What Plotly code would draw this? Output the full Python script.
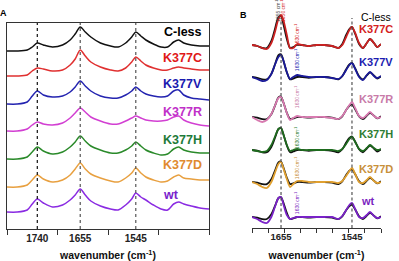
import plotly.graph_objects as go

W, H = 399, 261

# ---------------- Panel A data (FTIR absorbance, a.u., offset-stacked) ----------------
SERIES_A = ["C-less", "K377C", "K377V", "K377R", "K377H", "K377D", "wt"]
WN_A = [1800, 1780, 1760, 1750, 1740, 1728, 1710, 1690, 1675, 1665, 1655, 1645, 1634,
        1615, 1595, 1580, 1565, 1553, 1545, 1535, 1525, 1510, 1495, 1482, 1470, 1460,
        1450, 1435, 1418, 1400]
A_CLESS = [0, 0, 1, 4, 8, 6, 4, 6, 11, 17, 24, 19, 14, 8, 5, 4, 8, 14, 19, 15, 11, 7, 4, 4, 9, 11, 8, 6, 5, 5]
A_K377C = [0, 0, 1, 5, 8, 7, 5, 6, 11, 17, 26, 20, 14, 9, 6, 5, 8, 14, 19, 15, 11, 8, 6, 6, 8, 9, 8, 7, 6, 6]
A_K377V = [0, 0, 2, 8, 13, 9, 7, 8, 12, 17, 23, 18, 13, 8, 6, 6, 9, 13, 17, 13, 10, 8, 7, 8, 13, 14, 9, 6, 5, 4]
A_K377R = [0, 0, 2, 6, 9, 7, 6, 8, 13, 18, 23, 19, 14, 10, 7, 7, 10, 13, 15, 13, 11, 10, 10, 11, 14, 15, 11, 8, 6, 5]
A_K377H = [0, 0, 2, 7, 12, 8, 5, 7, 12, 17, 23, 18, 13, 9, 6, 6, 9, 13, 17, 13, 9, 6, 4, 5, 10, 12, 9, 7, 6, 6]
A_K377D = [0, 0, 2, 7, 12, 8, 5, 7, 12, 18, 24, 18, 13, 9, 6, 5, 9, 14, 19, 14, 10, 7, 5, 6, 10, 12, 9, 8, 7, 7]
A_WT    = [0, 0, 2, 8, 13, 9, 5, 7, 12, 17, 23, 17, 11, 6, 3, 2, 7, 13, 19, 15, 12, 7, 3, 2, 8, 10, 8, 6, 4, 3]
A_VALUES = [A_CLESS, A_K377C, A_K377V, A_K377R, A_K377H, A_K377D, A_WT]
A_OFFSETS = [178, 153, 125, 98, 70, 42, 17]
A_LINES = [1740, 1655, 1545]
A_TICKS = [1800, 1700, 1600, 1500, 1400]

# ---------------- Panel B data (second-derivative spectra, offset-stacked) ----------------
SERIES_B = ["K377C", "K377V", "K377R", "K377H", "K377D", "wt"]
WN_B = [1700, 1692, 1684, 1677, 1670, 1664, 1659, 1655, 1651, 1646, 1641, 1636, 1630,
        1622, 1612, 1600, 1588, 1576, 1566, 1560, 1554, 1549, 1545, 1540, 1534, 1528,
        1522, 1517, 1511, 1506, 1500]
B_CLESS = [0, -1, -3, -3, 4, 17, 28, 29, 20, 6, -3, -2, 0, 0, -1, 0, 0, -1, -3, 1, 10, 16, 18, 11, 1, -3, 2, 6, 2, -2, 1]
B_K377C = [0, -1, -3, -4, 2, 14, 26, 30, 24, 10, -3, -3, 1, 0, -1, 0, 0, -1, -3, 0, 8, 15, 18, 12, 2, -3, 2, 6, 2, -2, 1]
B_K377V = [0, -2, -4, -3, 3, 13, 20, 22, 16, 5, -2, 0, 2, 1, 0, 0, 0, -1, -2, 1, 7, 12, 14, 8, 0, -3, 2, 5, 1, -1, 1]
B_K377R = [0, -3, -5, -3, 3, 12, 19, 20, 14, 4, -3, -1, 1, 0, 0, 0, 0, -1, -2, 1, 7, 12, 15, 9, 1, -1, 2, 5, 1, -1, 0]
B_K377H = [0, -1, -2, -1, 5, 14, 21, 22, 15, 5, -1, 0, 1, 0, 0, 0, 0, 0, -1, 1, 6, 11, 13, 8, 1, -1, 2, 5, 2, 0, 1]
B_K377D = [0, -2, -5, -6, 0, 10, 18, 20, 13, 3, -5, -2, 1, 1, 0, 0, 0, 0, -1, 1, 6, 11, 14, 8, 0, -1, 2, 5, 1, -1, 0]
B_WT    = [0, -2, -5, -6, 0, 11, 19, 20, 12, 2, -2, -1, 0, 0, 0, 0, 0, 0, -2, 1, 7, 12, 14, 8, 0, -1, 2, 5, 1, -1, 0]
B_VALUES = [B_K377C, B_K377V, B_K377R, B_K377H, B_K377D, B_WT]
B_OFFSETS = [183, 151, 111, 78, 46, 11]
B_CLESS_SCALE = [1.0, 0.78, 0.7, 0.75, 0.7, 0.68]
B_NOTE_WN = 1630
B_NOTE_Y = [193, 168, 131, 90, 60, 25]
B_LINES = [1655, 1545]
B_TICKS = [1700, 1675, 1650, 1625, 1600, 1575, 1550, 1525, 1500]

# ---------------- styles ----------------
A_COLORS = ["#111111", "#e03030", "#2424b0", "#d23fd2", "#2a8a2a", "#e8a040", "#8a2be2"]
A_LABEL_COLORS = ["#000000", "#e01818", "#1a1ab0", "#c030c8", "#1e7a3a", "#e08a30", "#7a22cc"]
A_LABEL_Y = [32, 58, 84, 112, 140, 165, 195]
B_COLORS = ["#cc2222", "#1a1a9a", "#d87ab0", "#1e6b1e", "#e0a030", "#7a22c8"]
B_LABEL_COLORS = ["#d42020", "#1c1cb0", "#c87aa8", "#2e7d32", "#c8903a", "#7a1fc0"]
B_LABEL_Y = [29, 62, 99, 134, 169, 201]

FONT = "Liberation Sans, Arial, sans-serif"


def px(x):
    return x / W


def py(y):
    return 1 - y / H


fig = go.Figure()

for name, vals, off, col in zip(SERIES_A, A_VALUES, A_OFFSETS, A_COLORS):
    fig.add_trace(go.Scatter(x=WN_A, y=[v + off for v in vals], mode="lines",
                             line=dict(color=col, width=1.5, shape="spline", smoothing=0.8),
                             name=name, xaxis="x", yaxis="y", hoverinfo="skip"))

for name, vals, off, col, sc in zip(SERIES_B, B_VALUES, B_OFFSETS, B_COLORS, B_CLESS_SCALE):
    fig.add_trace(go.Scatter(x=WN_B, y=[v * sc + off for v in B_CLESS], mode="lines",
                             line=dict(color="#111111", width=1.8, shape="spline", smoothing=0.8),
                             name="C-less", xaxis="x2", yaxis="y2", hoverinfo="skip"))
    fig.add_trace(go.Scatter(x=WN_B, y=[v + off for v in vals], mode="lines",
                             line=dict(color=col, width=1.8, shape="spline", smoothing=0.8),
                             name=name, xaxis="x2", yaxis="y2", hoverinfo="skip"))

shapes = []
for i, wn in enumerate(A_LINES):
    shapes.append(dict(type="line", xref="x", yref="y domain", x0=wn, x1=wn, y0=0, y1=1,
                       line=dict(color="#111111" if i == 0 else "#555555", width=1.2, dash="3px,3px"),
                       layer="above"))
for wn in B_LINES:
    shapes.append(dict(type="line", xref="x2", yref="y2", x0=wn, x1=wn, y0=0, y1=210,
                       line=dict(color="#444444", width=1.1, dash="3px,2.5px"), layer="above"))

ann = []
for name, col, y in zip(SERIES_A, A_LABEL_COLORS, A_LABEL_Y):
    if name == "wt":
        ann.append(dict(x=px(171), y=py(y), xref="paper", yref="paper", text=name, showarrow=False,
                        xanchor="center", yanchor="middle",
                        font=dict(family=FONT, size=12.5, color=col, weight="bold")))
    else:
        ann.append(dict(x=px(204), y=py(y), xref="paper", yref="paper", text=name, showarrow=False,
                        xanchor="right", yanchor="middle",
                        font=dict(family=FONT, size=12.5, color=col, weight="bold")))

ann.append(dict(x=px(393), y=py(17), xref="paper", yref="paper", text="C-less", showarrow=False,
                xanchor="right", yanchor="middle", font=dict(family=FONT, size=10.5, color="#000000")))
for name, col, y in zip(SERIES_B, B_LABEL_COLORS, B_LABEL_Y):
    if name == "wt":
        ann.append(dict(x=px(368), y=py(y), xref="paper", yref="paper", text=name, showarrow=False,
                        xanchor="center", yanchor="middle",
                        font=dict(family=FONT, size=11, color=col, weight="bold")))
    else:
        ann.append(dict(x=px(395), y=py(y), xref="paper", yref="paper", text=name, showarrow=False,
                        xanchor="right", yanchor="middle",
                        font=dict(family=FONT, size=11, color=col, weight="bold")))

for col, y in zip(B_LABEL_COLORS, B_NOTE_Y):
    ann.append(dict(x=B_NOTE_WN, y=y, xref="x2", yref="y2", text="1630 cm<sup>-1</sup>",
                    showarrow=False, textangle=-90, font=dict(family=FONT, size=5, color=col)))
ann.append(dict(x=1660, y=217, xref="x2", yref="y2", text="1655 cm<sup>-1</sup>", showarrow=False,
                textangle=-90, font=dict(family=FONT, size=5, color="#444444")))
ann.append(dict(x=1652, y=217, xref="x2", yref="y2", text="1650 cm<sup>-1</sup>", showarrow=False,
                textangle=-90, font=dict(family=FONT, size=5, color="#d42020")))

ann.append(dict(x=px(-2), y=py(13), xref="paper", yref="paper", text="A", showarrow=False,
                xanchor="left", yanchor="middle", font=dict(family=FONT, size=9, color="#000", weight="bold")))
ann.append(dict(x=px(243), y=py(15), xref="paper", yref="paper", text="B", showarrow=False,
                xanchor="center", yanchor="middle", font=dict(family=FONT, size=9, color="#000", weight="bold")))

fig.update_layout(
    width=W, height=H, margin=dict(l=0, r=0, t=0, b=0),
    paper_bgcolor="white", plot_bgcolor="white", showlegend=False,
    shapes=shapes, annotations=ann,
    xaxis=dict(domain=[px(7), px(209)], range=[1800, 1400], showgrid=False, zeroline=False,
               showline=True, linecolor="#333333", linewidth=1, mirror=True,
               tickmode="array", tickvals=A_LINES, ticktext=[str(v) for v in A_LINES], ticks="",
               tickfont=dict(family=FONT, size=10, color="#222", weight="bold"),
               minor=dict(tickmode="array", tickvals=A_TICKS, ticks="outside", ticklen=5,
                          tickcolor="#333333", showgrid=False),
               title=dict(text="wavenumber (cm<sup>-1</sup>)", standoff=9,
                          font=dict(family=FONT, size=10.5, color="#111", weight="bold"))),
    yaxis=dict(domain=[py(229), py(23)], range=[0, 206], showgrid=False, zeroline=False,
               showline=True, linecolor="#333333", linewidth=1, mirror=True, showticklabels=False,
               ticks=""),
    xaxis2=dict(domain=[px(252), px(381)], range=[1700, 1500], showgrid=False, zeroline=False,
                showline=True, linecolor="#333333", linewidth=1, anchor="y2",
                tickmode="array", tickvals=B_LINES, ticktext=[str(v) for v in B_LINES], ticks="",
                tickfont=dict(family=FONT, size=9.5, color="#222", weight="bold"),
                minor=dict(tickmode="array", tickvals=B_TICKS, ticks="outside", ticklen=4,
                           tickcolor="#333333", showgrid=False),
                title=dict(text="wavenumber (cm<sup>-1</sup>)", standoff=10,
                           font=dict(family=FONT, size=10.5, color="#111", weight="bold"))),
    yaxis2=dict(domain=[py(228), 1], range=[0, 228], showgrid=False, zeroline=False,
                showline=False, showticklabels=False, ticks="", anchor="x2"),
)

fig.write_html("out.html")
